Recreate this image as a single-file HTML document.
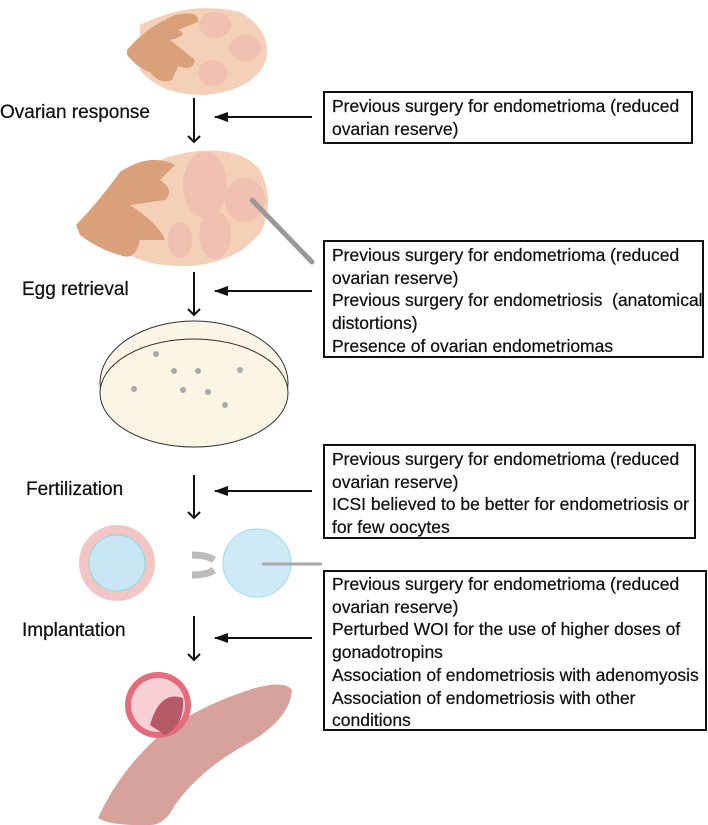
<!DOCTYPE html>
<html><head><meta charset="utf-8"><style>
body{margin:0;width:708px;height:825px;background:#fff;position:relative;overflow:hidden;font-family:"Liberation Sans",sans-serif;color:#111}
.box{position:absolute;left:323px;border:2px solid #111;box-sizing:border-box;padding:0 0 0 7px;font-size:17.5px;line-height:22.7px;white-space:nowrap;-webkit-text-stroke:0.25px #111}
.lbl{position:absolute;font-size:19px;line-height:22px;white-space:nowrap;-webkit-text-stroke:0.25px #111}
svg{position:absolute;left:0;top:0}
</style></head><body>
<svg width="708" height="825">
<defs><marker id="a" markerWidth="14" markerHeight="10" refX="13" refY="5" orient="auto" markerUnits="userSpaceOnUse"><path d="M0,0L14,5L0,10z" fill="#111"/></marker></defs>
<!-- ovary 1 -->
<path d="M140,25 Q190,0 240,12 Q272,30 266,60 Q255,90 205,95 Q160,95 140,70z" fill="#f5d0b8"/>
<ellipse cx="215" cy="25" rx="16" ry="13" fill="#f0c0b2"/><ellipse cx="245" cy="48" rx="16" ry="13" fill="#f0c0b2"/><ellipse cx="213" cy="73" rx="15" ry="13" fill="#f0c0b2"/>
<path d="M127,50 Q145,28 175,15 Q200,10 198,22 L178,30 Q190,35 170,40 L195,60 Q193,72 178,66 L172,80 Q160,85 150,72 Q140,70 127,55z" fill="#d9a07a"/>
<!-- ovary 2 -->
<path d="M105,200 Q140,160 190,152 Q240,145 260,170 Q275,200 262,230 Q240,262 190,266 Q130,268 105,235z" fill="#f5d0b8"/>
<ellipse cx="205" cy="185" rx="22" ry="33" fill="#f0c0b2"/><ellipse cx="245" cy="200" rx="20" ry="22" fill="#f0c0b2"/><ellipse cx="215" cy="235" rx="16" ry="24" fill="#f0c0b2"/><ellipse cx="180" cy="240" rx="12" ry="18" fill="#f0c0b2"/>
<path d="M76,225 Q100,200 120,172 Q150,152 175,165 L160,180 Q175,190 165,200 L130,205 Q160,225 165,240 L140,240 Q135,262 120,255 Q100,250 80,235z" fill="#d9a07a"/>
<line x1="252" y1="200" x2="312" y2="262" stroke="#999" stroke-width="5" stroke-linecap="round"/>
<!-- petri -->
<ellipse cx="194" cy="383" rx="94" ry="62" fill="#fbf5e6" stroke="#333" stroke-width="1"/>
<ellipse cx="194" cy="393" rx="94" ry="54" fill="#fbf5e3" stroke="#333" stroke-width="1"/>
<g fill="#aaa"><circle cx="156" cy="354" r="3"/><circle cx="174" cy="371" r="3"/><circle cx="198" cy="371" r="3"/><circle cx="240" cy="370" r="3"/><circle cx="134" cy="389" r="3"/><circle cx="183" cy="390" r="3"/><circle cx="208" cy="392" r="3"/><circle cx="225" cy="405" r="3"/></g>
<!-- cells -->
<circle cx="117" cy="563" r="38" fill="#f3c6c6"/><circle cx="117" cy="563" r="28" fill="#c8e6f5" stroke="#8dd" />
<path d="M192,555 q15,0 22,5 M192,575 q15,0 22,-5" fill="none" stroke="#bbb" stroke-width="7"/>
<circle cx="257" cy="563" r="34" fill="#cfe9f6" stroke="#9de"/>
<line x1="262" y1="564" x2="322" y2="564" stroke="#aaa" stroke-width="3"/>
<!-- uterus -->
<path d="M98,818 Q120,770 160,735 Q200,705 255,688 Q285,680 292,690 Q290,720 245,745 Q200,770 175,805 Q165,825 150,825 Q110,826 98,818z" fill="#d7a19c"/>
<circle cx="158" cy="705" r="33" fill="#e46b7b"/><circle cx="158" cy="705" r="27" fill="#f7cfd4"/>
<path d="M150,725 Q160,690 183,698 Q185,725 165,735z" fill="#b55a66"/>
<!-- arrows -->
<g stroke="#111" stroke-width="2" fill="none">
<path d="M194,98V142M188,136L194,142L200,136"/>
<path d="M194,272V315M188,309L194,315L200,309"/>
<path d="M194,475V518M188,512L194,518L200,512"/>
<path d="M194,616V660M188,654L194,660L200,654"/>
<line x1="312" y1="117" x2="215" y2="117" marker-end="url(#a)"/>
<line x1="312" y1="291" x2="215" y2="291" marker-end="url(#a)"/>
<line x1="312" y1="491" x2="215" y2="491" marker-end="url(#a)"/>
<line x1="312" y1="638" x2="215" y2="638" marker-end="url(#a)"/>
</g>
</svg>
<div class="lbl" style="left:0px;top:102px">Ovarian response</div>
<div class="lbl" style="left:22px;top:279px">Egg retrieval</div>
<div class="lbl" style="left:26px;top:479px">Fertilization</div>
<div class="lbl" style="left:22px;top:620px">Implantation</div>
<div class="box" style="top:91px;width:370px;height:53px;padding-top:2px">Previous surgery for endometrioma (reduced<br>ovarian reserve)</div>
<div class="box" style="top:240px;width:381px;height:118px;padding-top:2px">Previous surgery for endometrioma (reduced<br>ovarian reserve)<br>Previous surgery for endometriosis &nbsp;(anatomical<br>distortions)<br>Presence of ovarian endometriomas</div>
<div class="box" style="top:444px;width:373px;height:95px;padding-top:2px">Previous surgery for endometrioma (reduced<br>ovarian reserve)<br>ICSI believed to be better for endometriosis or<br>for few oocytes</div>
<div class="box" style="top:570px;width:384px;height:161px;padding-top:1px">Previous surgery for endometrioma (reduced<br>ovarian reserve)<br>Perturbed WOI for the use of higher doses of<br>gonadotropins<br>Association of endometriosis with adenomyosis<br>Association of endometriosis with other<br>conditions</div>
</body></html>
